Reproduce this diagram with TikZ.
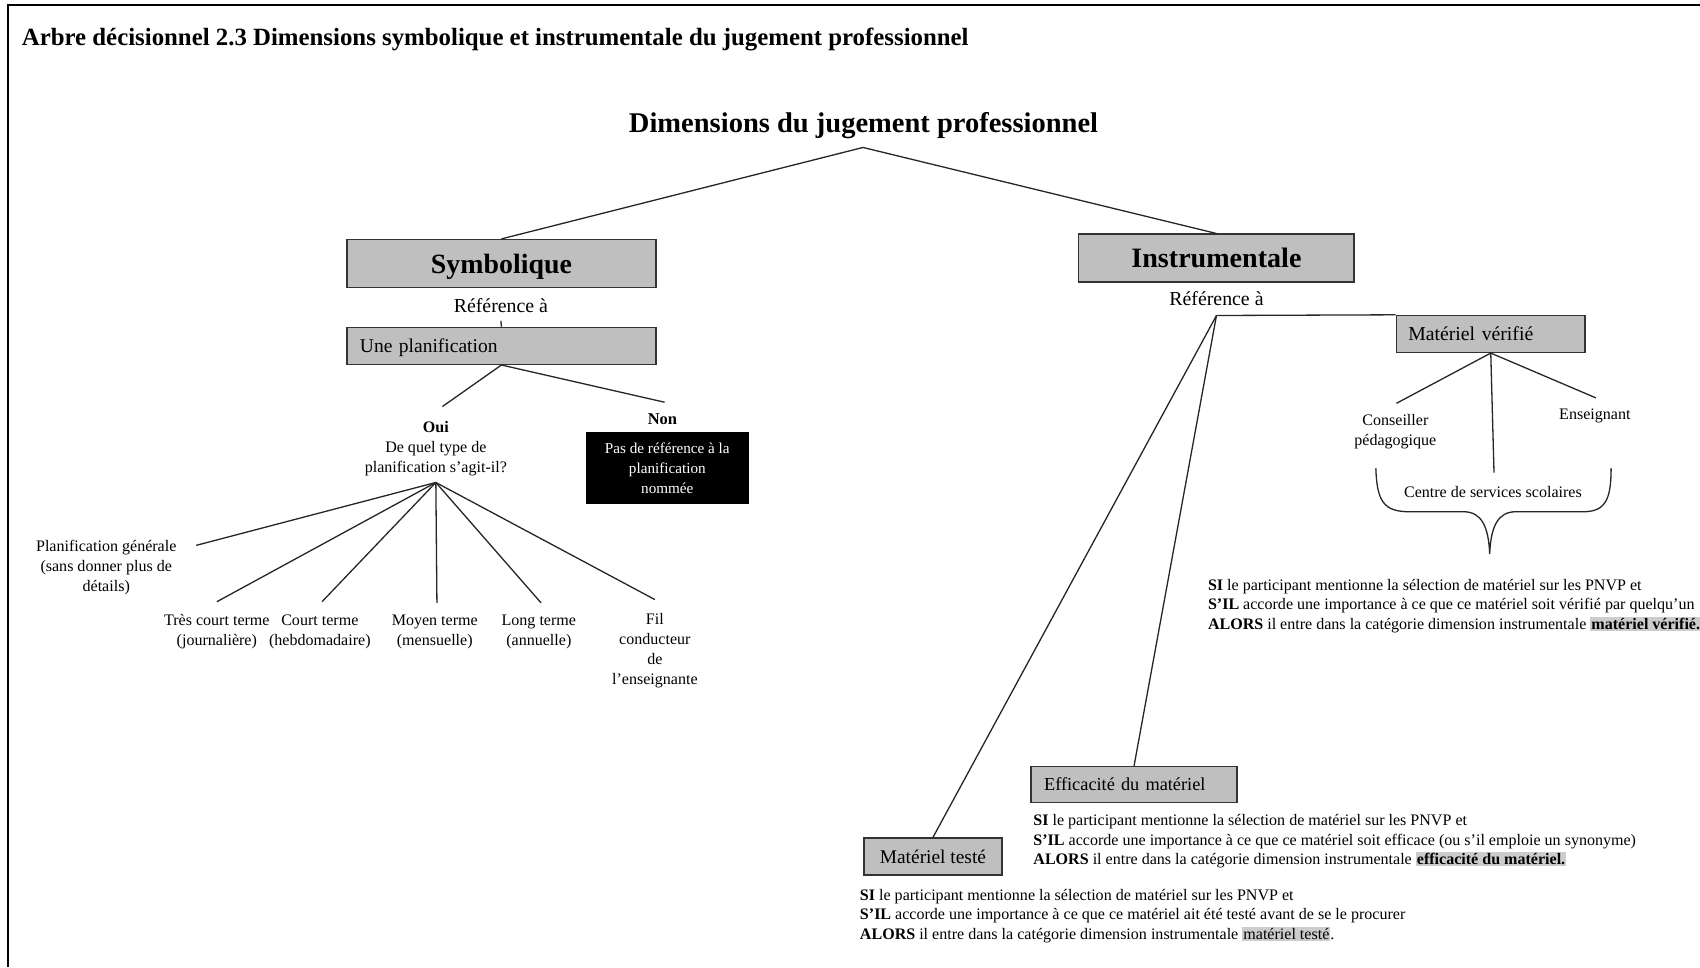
\documentclass[tikz,border=0pt]{standalone}
\usepackage{fontspec}
\setmainfont{Liberation Serif}
\newcommand\myfs[2]{\fontsize{#1pt}{#2pt}\selectfont}
\newcommand\hlt[1]{{\setlength\fboxsep{1pt}\colorbox{black!20}{#1}}}
\begin{document}
\begin{tikzpicture}[x=1pt,y=-1pt,
  graybox/.style={draw=black!80, line width=1.3pt, fill=black!25, inner sep=0pt, text depth=0pt},
  lbl/.style={inner sep=0pt, align=center, font=\myfs{14.8}{18.5}},
  conn/.style={line width=1.2pt, draw=black!85},
  rule/.style={inner sep=0pt, align=left, anchor=west, font=\myfs{14.8}{18}},
]
\useasboundingbox (0,0) rectangle (1568,892);
\fill[white] (0,0) rectangle (1568,892);
\draw[line width=2pt] (7.4,892) -- (7.4,4.6) -- (1568,4.6);

\node[anchor=west, inner sep=0pt, font=\bfseries\myfs{22.9}{26}] (titre) at (20,36.5) {Arbre décisionnel 2.3 Dimensions symbolique et instrumentale du jugement professionnel};
\node[inner sep=0pt, font=\bfseries\myfs{26.3}{30}] (dim) at (796.5,115.5) {Dimensions du jugement professionnel};
\coordinate (root) at (796,136);

% Symbolique branch
\node[graybox, minimum width=285pt, minimum height=44pt, font=\bfseries\myfs{25.7}{30}] (sym) at (462.5,243) {Symbolique};
\node[lbl, font=\myfs{18.3}{22}] (refS) at (462,281.5) {Référence à};
\coordinate (tickS) at (462,296);
\node[graybox, minimum width=285pt, minimum height=34pt, text width=261pt, inner xsep=12pt, align=left, font=\myfs{18}{22}] (plan) at (462.5,319) {Une planification};

\node[lbl] (oui) at (402,413.5) {\textbf{Oui}\\De quel type de\\planification s’agit-il?};
\coordinate (ouiT) at (408,375);
\coordinate (ouiB) at (402,445);
\node[lbl, font=\bfseries\myfs{15.2}{18}] (non) at (611,387) {Non};
\coordinate (nonN) at (613,371);
\node[draw=black, fill=black, text=white, minimum width=149pt, minimum height=65pt, inner sep=0pt, align=center, font=\myfs{14}{18.5}] (pas) at (615.5,431.5) {Pas de référence à la\\planification\\nommée};

\node[lbl] (pg) at (98,523.5) {Planification générale\\(sans donner plus de\\détails)};
\node[lbl] (tc) at (200,582.5) {Très court terme\\(journalière)};
\node[lbl] (ct) at (295,582.5) {Court terme\\(hebdomadaire)};
\node[lbl] (mt) at (401,582.5) {Moyen terme\\(mensuelle)};
\node[lbl] (lt) at (497,582.5) {Long terme\\(annuelle)};
\node[lbl] (fil) at (604,600.5) {Fil\\conducteur\\de\\l’enseignante};
\coordinate (pgE) at (181,503);
\coordinate (tcN) at (200,555);
\coordinate (ctN) at (297,555);
\coordinate (mtN) at (403,556);
\coordinate (ltN) at (499,556);
\coordinate (filN) at (604,553);

% Instrumentale branch
\node[graybox, minimum width=254pt, minimum height=44pt, font=\bfseries\myfs{25.9}{30}] (instr) at (1122,238) {Instrumentale};
\node[lbl, font=\myfs{18.3}{22}] (refI) at (1122,275.5) {Référence à};
\coordinate (jI) at (1122,291);
\node[graybox, minimum width=174pt, minimum height=34pt, text width=152pt, inner xsep=11pt, align=left, font=\myfs{18.2}{22}] (verif) at (1375,308) {Matériel vérifié};
\node[lbl] (cons) at (1287,398) {Conseiller\\pédagogique};
\node[lbl] (ens) at (1471,384) {Enseignant};
\node[lbl] (css) at (1377,454) {Centre de services scolaires};
\coordinate (consN) at (1288,372);
\coordinate (ensN) at (1472,367);
\coordinate (cssN) at (1378,436);

\node[rule] (rV) at (1114,559) {\textbf{SI} le participant mentionne la sélection de matériel sur les PNVP et\\\textbf{S’IL} accorde une importance à ce que ce matériel soit vérifié par quelqu’un\\\textbf{ALORS} il entre dans la catégorie dimension instrumentale \hlt{\textbf{matériel vérifié.}}};

\node[graybox, minimum width=190pt, minimum height=33pt, text width=166pt, inner xsep=12pt, align=left, font=\myfs{16.9}{20}] (effic) at (1046,723.5) {Efficacité du matériel};
\node[rule] (rE) at (953,776) {\textbf{SI} le participant mentionne la sélection de matériel sur les PNVP et\\\textbf{S’IL} accorde une importance à ce que ce matériel soit efficace (ou s’il emploie un synonyme)\\\textbf{ALORS} il entre dans la catégorie dimension instrumentale \hlt{\textbf{efficacité du matériel.}}};

\node[graybox, minimum width=127pt, minimum height=34pt, font=\myfs{17.9}{22}] (teste) at (860.5,790) {Matériel testé};
\node[rule] (rT) at (793,845) {\textbf{SI} le participant mentionne la sélection de matériel sur les PNVP et\\\textbf{S’IL} accorde une importance à ce que ce matériel ait été testé avant de se le procurer\\\textbf{ALORS} il entre dans la catégorie dimension instrumentale \hlt{matériel testé}.};

% connectors
\draw[conn] (root) -- (sym.north);
\draw[conn] (root) -- (instr.north);
\draw[conn] (tickS) -- (plan.north);
\draw[conn] (plan.south) -- (ouiT);
\draw[conn] (plan.south) -- (nonN);
\foreach \t in {pgE,tcN,ctN,mtN,ltN,filN} \draw[conn] (ouiB) -- (\t);
\draw[conn] (jI) -- (verif.north west);
\draw[conn] (jI) -- (teste.north);
\draw[conn] (jI) -- (effic.north);
\foreach \t in {consN,ensN,cssN} \draw[conn] (verif.south) -- (\t);
\draw[conn] (1269,432) .. controls (1270,462) and (1276,472) .. (1300,472) -- (1350,472) .. controls (1366,472) and (1373,485) .. (1374,511) .. controls (1375,485) and (1382,472) .. (1398,472) -- (1460,472) .. controls (1480,472) and (1486,462) .. (1486,432);
\end{tikzpicture}
\end{document}
